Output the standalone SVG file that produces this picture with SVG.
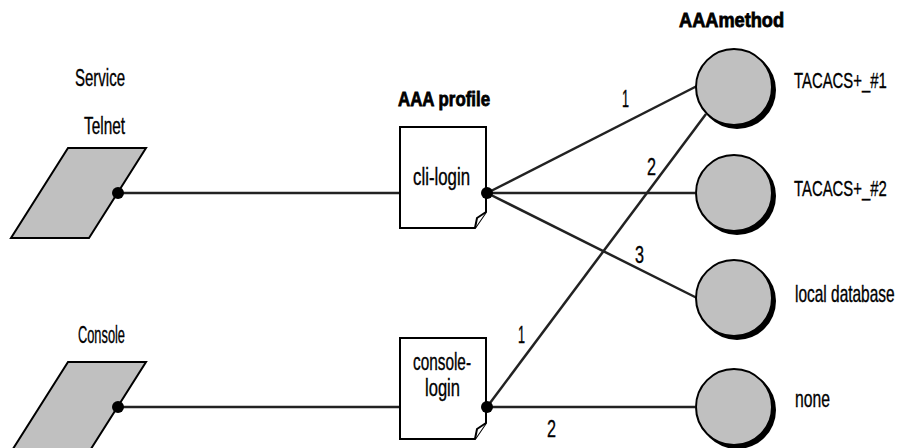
<svg xmlns="http://www.w3.org/2000/svg" width="899" height="448" viewBox="0 0 899 448">
<style>
text{font-family:"Liberation Sans",Arial,sans-serif;font-size:23px;fill:#000;stroke:#000;stroke-width:0.35}
.b{font-weight:bold;font-size:20px;stroke-width:0.8}
.port{fill:#c0c0c0;stroke:#000;stroke-width:2}
.doc{fill:#fff;stroke:#000;stroke-width:2;stroke-linejoin:miter}
.meth{fill:#c0c0c0;stroke:#000;stroke-width:2}
.shadow{fill:#000}
.ln{stroke:#222;stroke-width:2.5;fill:none}
.dot{fill:#000}
</style>
<g id="connectors">
<line class="ln" x1="118" y1="193" x2="487" y2="193"/>
<line class="ln" x1="118" y1="407" x2="487" y2="407"/>
<line class="ln" x1="487" y1="193" x2="697" y2="86"/>
<line class="ln" x1="487" y1="193" x2="695" y2="193"/>
<line class="ln" x1="487" y1="193" x2="697" y2="298"/>
<line class="ln" x1="487" y1="407" x2="706" y2="114"/>
<line class="ln" x1="487" y1="407" x2="695" y2="407"/>
<text x="622" y="107" textLength="7" lengthAdjust="spacingAndGlyphs">1</text>
<text x="647" y="175" textLength="9" lengthAdjust="spacingAndGlyphs">2</text>
<text x="635" y="263" textLength="9" lengthAdjust="spacingAndGlyphs">3</text>
<text x="518" y="343" textLength="7" lengthAdjust="spacingAndGlyphs">1</text>
<text x="547" y="437" textLength="9" lengthAdjust="spacingAndGlyphs">2</text>
</g>
<g id="telnet">
<text x="75" y="86" textLength="50" lengthAdjust="spacingAndGlyphs">Service</text>
<text x="84" y="134" textLength="41" lengthAdjust="spacingAndGlyphs">Telnet</text>
<polygon class="port" points="68,148 146,148 89,238 11,238"/>
<circle class="dot" cx="118" cy="193" r="6"/>
</g>
<g id="console">
<text x="78" y="343" textLength="47" lengthAdjust="spacingAndGlyphs">Console</text>
<polygon class="port" points="68,362 146,362 89,452 11,452"/>
<circle class="dot" cx="118" cy="407" r="6"/>
</g>
<g id="cli-login">
<text class="b" x="398" y="106" textLength="92" lengthAdjust="spacingAndGlyphs">AAA profile</text>
<path class="doc" d="M400,127 H486 V212 L475,228 H400 Z"/>
<path class="doc" d="M486,212 L477,218 L475,228"/>
<text x="413" y="185" textLength="57" lengthAdjust="spacingAndGlyphs">cli-login</text>
<circle class="dot" cx="487" cy="193" r="6"/>
</g>
<g id="console-login">
<path class="doc" d="M400,338 H486 V423 L475,439 H400 Z"/>
<path class="doc" d="M486,423 L477,429 L475,439"/>
<text x="413" y="370" textLength="58" lengthAdjust="spacingAndGlyphs">console-</text>
<text x="425" y="396" textLength="35" lengthAdjust="spacingAndGlyphs">login</text>
<circle class="dot" cx="487" cy="407" r="6"/>
</g>
<g id="method-title">
<text class="b" x="679" y="27" textLength="105" lengthAdjust="spacingAndGlyphs">AAAmethod</text>
</g>
<g id="tacacs1">
<circle class="shadow" cx="737" cy="90" r="39"/>
<circle class="meth" cx="734" cy="87" r="38"/>
<text transform="translate(794,88) scale(0.648,1)">TACACS+_#1</text>
</g>
<g id="tacacs2">
<circle class="shadow" cx="737" cy="196" r="39"/>
<circle class="meth" cx="734" cy="193" r="38"/>
<text transform="translate(794,196) scale(0.648,1)">TACACS+_#2</text>
</g>
<g id="local">
<circle class="shadow" cx="737" cy="301" r="39"/>
<circle class="meth" cx="734" cy="298" r="38"/>
<text transform="translate(795,302) scale(0.672,1)">local database</text>
</g>
<g id="none">
<circle class="shadow" cx="737" cy="410" r="39"/>
<circle class="meth" cx="734" cy="407" r="38"/>
<text x="795" y="407" textLength="35" lengthAdjust="spacingAndGlyphs">none</text>
</g>
</svg>
